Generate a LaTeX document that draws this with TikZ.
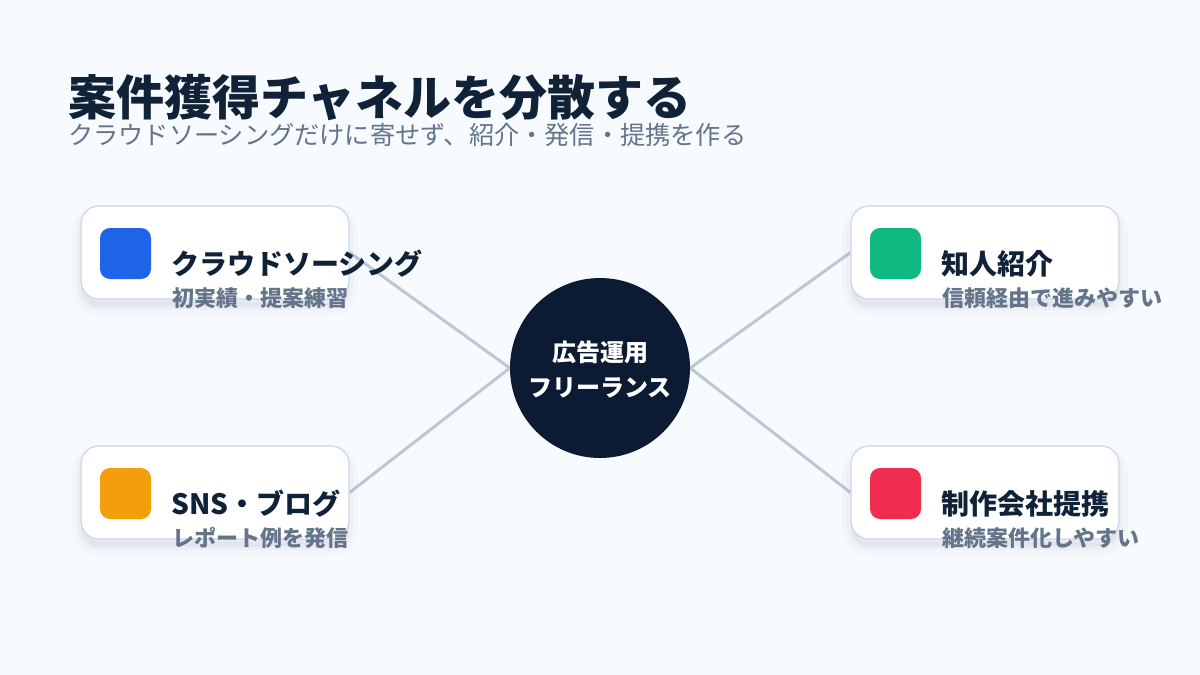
\documentclass[tikz,border=0pt]{standalone}
\usepackage{fontspec}
\setmainfont{Noto Sans CJK JP}
\usetikzlibrary{shadows}

\definecolor{pagebg}{HTML}{F7FAFE}
\definecolor{ink}{HTML}{0F2238}
\definecolor{slate}{HTML}{64748B}
\definecolor{hubfill}{HTML}{0A1B33}
\definecolor{linkgray}{HTML}{BCC8D8}
\definecolor{cardline}{HTML}{CDD7E5}
\definecolor{mkblue}{HTML}{1F63E9}
\definecolor{mkgreen}{HTML}{10B981}
\definecolor{mkorange}{HTML}{F59E0B}
\definecolor{mkred}{HTML}{F02D50}

\pgfdeclarelayer{back}
\pgfdeclarelayer{edges}
\pgfsetlayers{back,edges,main}

\begin{document}
\begin{tikzpicture}
   [
    x=1pt, y=-1pt,
    card/.style={rectangle, rounded corners=18pt, draw=cardline, line width=1.2pt,
                 fill=white, minimum width=268pt, minimum height=93pt, inner sep=0pt,
                 drop shadow={shadow xshift=0pt, shadow yshift=-8pt, fill=ink,
                              draw=ink, line width=18pt, opacity=0.018},
                 drop shadow={shadow xshift=0pt, shadow yshift=-7pt, fill=ink,
                              draw=ink, line width=8pt, opacity=0.025}},
    badge/.style={rectangle, rounded corners=10pt, minimum size=51pt, inner sep=0pt},
    cardtitle/.style={anchor=base west, inner sep=0pt, text=ink,
                      font=\fontsize{28}{34}\selectfont\bfseries},
    cardnote/.style={anchor=base west, inner sep=0pt, text=slate,
                     font=\fontsize{22}{26}\selectfont\bfseries},
    hubtext/.style={anchor=base, inner sep=0pt, text=white,
                    font=\fontsize{24}{30}\selectfont\bfseries},
    link/.style={draw=linkgray, line width=3pt}
    ]

\begin{pgfonlayer}{back}
  \fill[pagebg] (0,0) rectangle (1200,675);
\end{pgfonlayer}
\useasboundingbox (0,0) rectangle (1200,675);

% heading
\node[anchor=base west, inner sep=0pt, text=ink, font=\fontsize{48}{56}\selectfont\bfseries]
  (title) at (68,115) {案件獲得チャネルを分散する};
\node[anchor=base west, inner sep=0pt, text=slate, font=\fontsize{25.2}{30}\selectfont]
  (subtitle) at (68,144) {クラウドソーシングだけに寄せず、紹介・発信・提携を作る};

% center
\node[circle, fill=hubfill, minimum size=180pt, inner sep=0pt] (hub) at (600,368) {};
\node[hubtext] (hubtop) at (600,361) {広告運用};
\node[hubtext] (hubbottom) at (600,396) {フリーランス};

% left top card
\node[card] (crowd) at (215,252.5) {};
\node[badge, fill=mkblue] (crowdmark) at (125.5,253.5) {};
\node[cardtitle] (crowdtitle) at (171,274) {クラウドソーシング};
\node[cardnote] (crowdnote) at (172,306) {初実績・提案練習};

% left bottom card
\node[card] (sns) at (215,492.5) {};
\node[badge, fill=mkorange] (snsmark) at (125.5,493.5) {};
\node[cardtitle] (snstitle) at (171,514) {SNS・ブログ};
\node[cardnote] (snsnote) at (172,546) {レポート例を発信};

% right top card
\node[card] (intro) at (985,252.5) {};
\node[badge, fill=mkgreen] (intromark) at (895.5,253.5) {};
\node[cardtitle] (introtitle) at (941,274) {知人紹介};
\node[cardnote] (intronote) at (942,306) {信頼経由で進みやすい};

% right bottom card
\node[card] (partner) at (985,492.5) {};
\node[badge, fill=mkred] (partnermark) at (895.5,493.5) {};
\node[cardtitle] (partnertitle) at (941,514) {制作会社提携};
\node[cardnote] (partnernote) at (942,546) {継続案件化しやすい};

% links
\begin{pgfonlayer}{edges}
  \draw[link] (crowd.east) -- (hub.west);
  \draw[link] (sns.east) -- (hub.west);
  \draw[link] (hub.east) -- (intro.west);
  \draw[link] (hub.east) -- (partner.west);
\end{pgfonlayer}

\end{tikzpicture}
\end{document}
